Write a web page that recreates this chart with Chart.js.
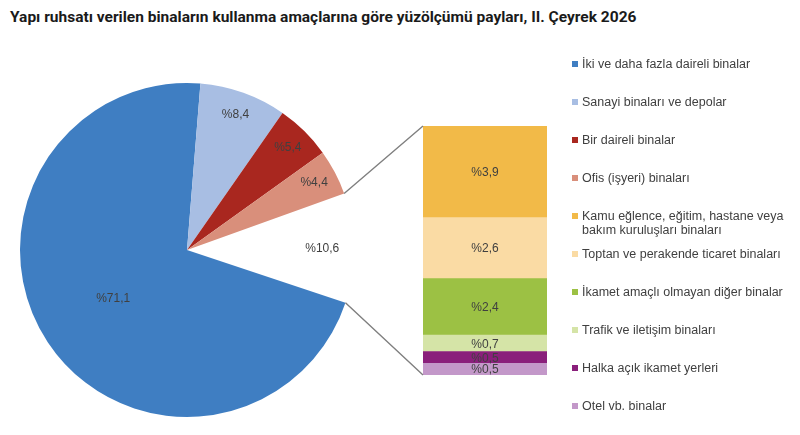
<!DOCTYPE html>
<html><head><meta charset="utf-8">
<script src="https://cdn.jsdelivr.net/npm/chart.js@4.4.1/dist/chart.umd.min.js"></script>
<style>
html,body{margin:0;padding:0;background:#fff;}
#wrap{position:relative;width:800px;height:435px;overflow:hidden;font-family:"Liberation Sans",Arial,sans-serif;}
#title{position:absolute;left:10px;top:8px;font-family:Roboto,"Liberation Sans",sans-serif;font-weight:bold;font-size:15.5px;color:#1a1a1a;white-space:nowrap;}
#pieCanvas{position:absolute;left:17px;top:80px;}
#barCanvas{position:absolute;left:423px;top:126px;}
#overlay{position:absolute;left:0;top:0;pointer-events:none;}
.lg{position:absolute;left:572px;font-size:12.5px;color:#404040;line-height:14px;}
.lg i{position:absolute;left:0;top:4px;width:6px;height:6px;}
.lg span{display:block;margin-left:10px;width:214px;}
</style></head>
<body>
<div id="wrap">
  <div id="title">Yapı ruhsatı verilen binaların kullanma amaçlarına göre yüzölçümü payları, II. Çeyrek 2026</div>
  <canvas id="pieCanvas" width="340" height="340"></canvas>
  <canvas id="barCanvas" width="124" height="249"></canvas>
  <canvas id="overlay" width="800" height="435"></canvas>
  <div id="legend"></div>
</div>
<script>
// ---- Data ----
const pieLabels = ["İki ve daha fazla daireli binalar", "Sanayi binaları ve depolar", "Bir daireli binalar", "Ofis (işyeri) binaları", "Diğer"];
const pieValues = [71.1, 8.4, 5.4, 4.4, 10.6];
const pieColors = ["#3F7EC2", "#A8BEE3", "#A9271F", "#D98F7B", "rgba(0,0,0,0)"];

const barLabels = ["Kamu eğlence, eğitim, hastane veya bakım kuruluşları binaları", "Toptan ve perakende ticaret binaları", "İkamet amaçlı olmayan diğer binalar", "Trafik ve iletişim binaları", "Halka açık ikamet yerleri", "Otel vb. binalar"];
const barValues = [3.9, 2.6, 2.4, 0.7, 0.5, 0.5];
const barColors = ["#F2BA48", "#FADBA4", "#9CC144", "#D5E4A7", "#8A1F7B", "#C398C9"];

const fmt = v => "%" + v.toFixed(1).replace(".", ",");
const textColor = "#404040";
const labelFont = '12px "Liberation Sans", Arial, sans-serif';

// ---- Pie ----
const pieLabelPlugin = {
  id: "pieLabels",
  afterDatasetsDraw(chart) {
    const ctx = chart.ctx;
    const meta = chart.getDatasetMeta(0);
    ctx.save();
    ctx.font = labelFont;
    ctx.fillStyle = textColor;
    ctx.textAlign = "center";
    ctx.textBaseline = "middle";
    meta.data.forEach((arc, i) => {
      const p = arc.getProps(["x", "y", "startAngle", "endAngle", "outerRadius"], true);
      const mid = (p.startAngle + p.endAngle) / 2;
      const f = i === 0 ? 0.53 : (i === meta.data.length - 1 ? 0.81 : 0.86);
      ctx.fillText(fmt(pieValues[i]), p.x + Math.cos(mid) * p.outerRadius * f, p.y + Math.sin(mid) * p.outerRadius * f);
    });
    ctx.restore();
  }
};

const pieChart = new Chart(document.getElementById("pieCanvas"), {
  type: "pie",
  data: { labels: pieLabels, datasets: [{ data: pieValues, backgroundColor: pieColors, borderWidth: 0, hoverOffset: 0 }] },
  options: {
    responsive: false, animation: false, rotation: 108.4,
    layout: { padding: 3 },
    events: [],
    plugins: { legend: { display: false }, tooltip: { enabled: false } }
  },
  plugins: [pieLabelPlugin]
});

// ---- Stacked bar ----
const total = barValues.reduce((a, b) => a + b, 0);
const barLabelPlugin = {
  id: "barLabels",
  afterDatasetsDraw(chart) {
    const ctx = chart.ctx;
    ctx.save();
    ctx.font = labelFont;
    ctx.fillStyle = textColor;
    ctx.textAlign = "center";
    ctx.textBaseline = "middle";
    chart.data.datasets.forEach((ds, di) => {
      const el = chart.getDatasetMeta(di).data[0];
      const p = el.getProps(["x", "y", "base"], true);
      ctx.fillText(fmt(ds.data[0]), p.x, (p.y + p.base) / 2 + 1);
    });
    ctx.restore();
  }
};
const barDatasets = barLabels.map((l, i) => ({
  label: l, data: [barValues[i]], backgroundColor: barColors[i],
  borderWidth: 0, barPercentage: 1, categoryPercentage: 1
})).reverse();

const barChart = new Chart(document.getElementById("barCanvas"), {
  type: "bar",
  data: { labels: [""], datasets: barDatasets },
  options: {
    responsive: false, animation: false, events: [],
    layout: { padding: 0 },
    plugins: { legend: { display: false }, tooltip: { enabled: false } },
    scales: {
      x: { display: false, stacked: true },
      y: { display: false, stacked: true, min: 0, max: total }
    }
  },
  plugins: [barLabelPlugin]
});

// ---- Connector lines ----
(function () {
  const pc = document.getElementById("pieCanvas"), bc = document.getElementById("barCanvas");
  const pOff = { x: pc.offsetLeft, y: pc.offsetTop }, bOff = { x: bc.offsetLeft, y: bc.offsetTop };
  const arcs = pieChart.getDatasetMeta(0).data;
  const a3 = arcs[3].getProps(["x", "y", "endAngle", "outerRadius"], true);
  const a4 = arcs[4].getProps(["x", "y", "endAngle", "outerRadius"], true);
  const nd = barChart.data.datasets.length;
  const topEl = barChart.getDatasetMeta(nd - 1).data[0].getProps(["x", "y", "width"], true);
  const botEl = barChart.getDatasetMeta(0).data[0].getProps(["x", "base", "width"], true);
  const ctx = document.getElementById("overlay").getContext("2d");
  ctx.strokeStyle = "#7F7F7F";
  ctx.lineWidth = 1.4;
  ctx.beginPath();
  ctx.moveTo(pOff.x + a3.x + Math.cos(a3.endAngle) * a3.outerRadius, pOff.y + a3.y + Math.sin(a3.endAngle) * a3.outerRadius);
  ctx.lineTo(bOff.x + topEl.x - topEl.width / 2, bOff.y + topEl.y);
  ctx.moveTo(pOff.x + a4.x + Math.cos(a4.endAngle) * a4.outerRadius, pOff.y + a4.y + Math.sin(a4.endAngle) * a4.outerRadius);
  ctx.lineTo(bOff.x + botEl.x - botEl.width / 2, bOff.y + botEl.base);
  ctx.stroke();
})();

// ---- Legend ----
(function () {
  const legend = document.getElementById("legend");
  const items = pieLabels.slice(0, 4).map((l, i) => [l, pieColors[i]]).concat(barLabels.map((l, i) => [l, barColors[i]]));
  items.forEach(([label, color], i) => {
    const d = document.createElement("div");
    d.className = "lg";
    d.style.top = (57 + i * 38) + "px";
    const sq = document.createElement("i");
    sq.style.background = color;
    const sp = document.createElement("span");
    sp.textContent = label;
    d.appendChild(sq); d.appendChild(sp);
    legend.appendChild(d);
  });
})();
</script>
</body></html>
